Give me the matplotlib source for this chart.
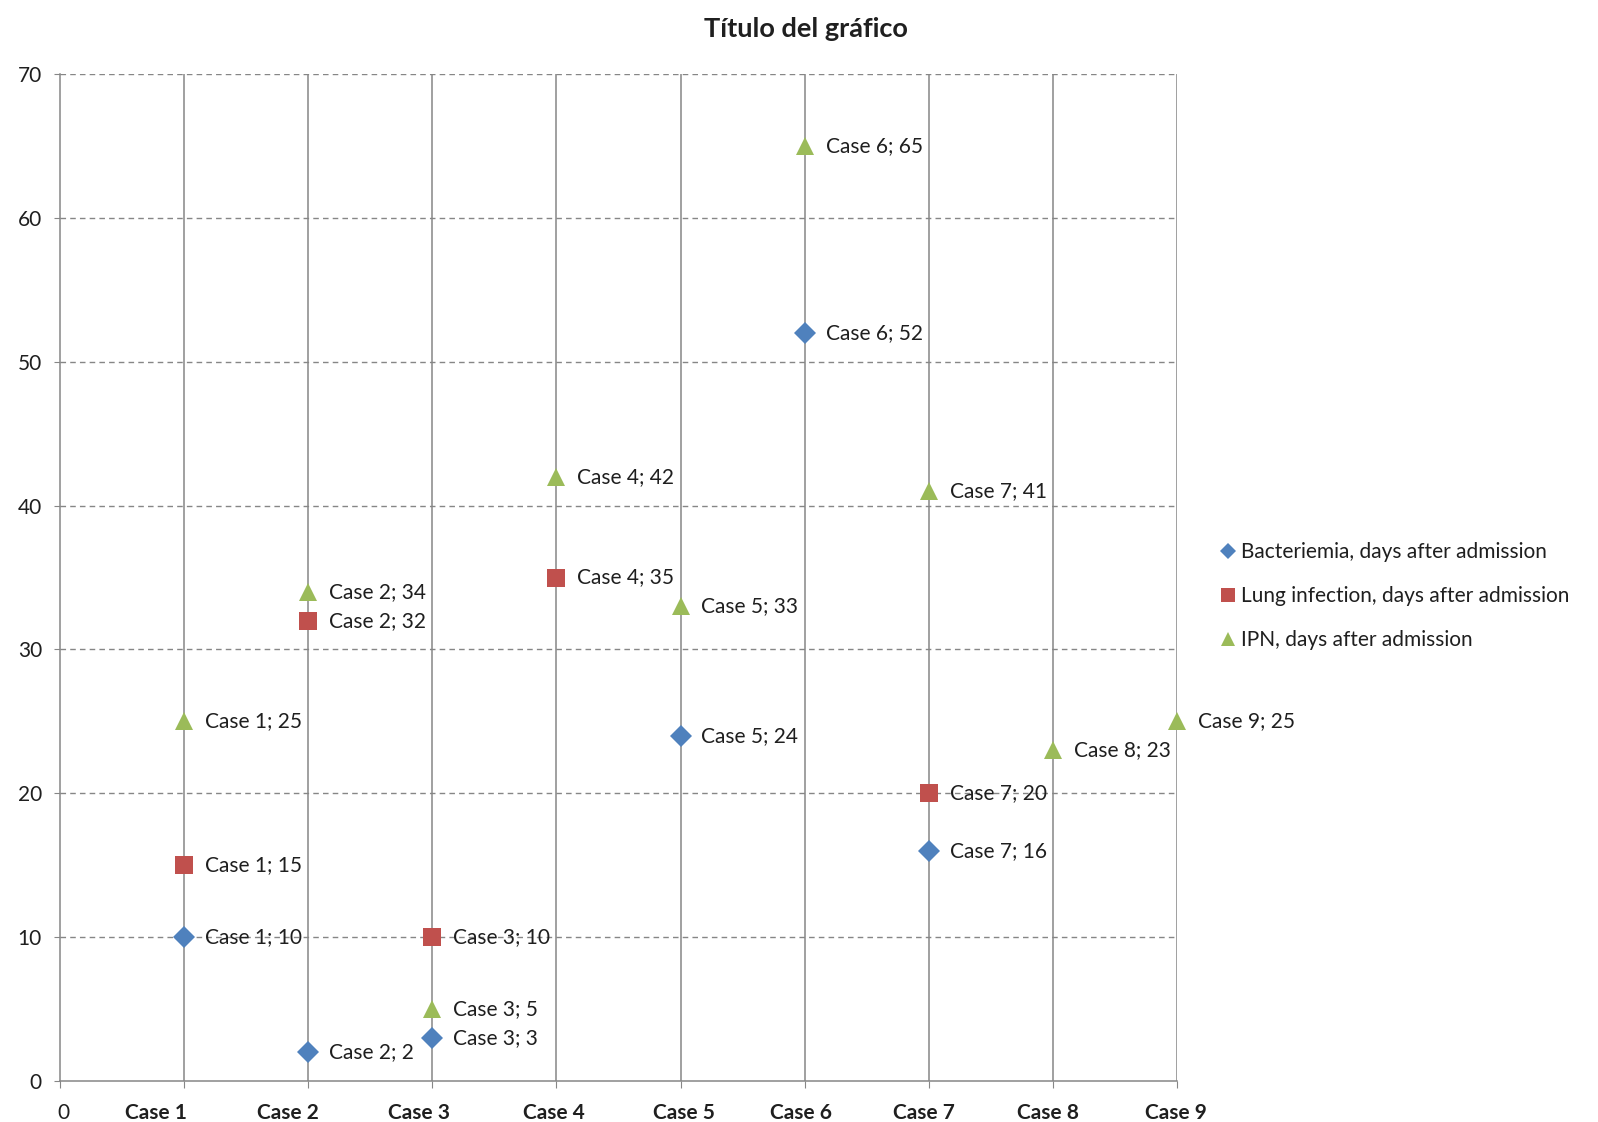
import matplotlib
matplotlib.use("Agg")
import matplotlib.pyplot as plt

plt.rcParams['font.family'] = ['Lato', 'DejaVu Sans']

# Days after admission for each complication, by case number
bact_cases = [1, 2, 3, 5, 6, 7]
bact_days = [10, 2, 3, 24, 52, 16]

lung_cases = [1, 2, 3, 4, 7]
lung_days = [15, 32, 10, 35, 20]

ipn_cases = [1, 2, 3, 4, 5, 6, 7, 8, 9]
ipn_days = [25, 34, 5, 42, 33, 65, 41, 23, 25]

tick_labels = ['0', 'Case 1', 'Case 2', 'Case 3', 'Case 4', 'Case 5',
               'Case 6', 'Case 7', 'Case 8', 'Case 9']
# the category labels sit slightly off the gridlines
label_pos = [0.03, 0.77, 1.84, 2.89, 3.98, 5.03, 5.97, 6.96, 7.96, 8.99]

series = [
    (bact_cases, bact_days, 'Bacteriemia, days after admission', '#4F81BD', 'D', 11),
    (lung_cases, lung_days, 'Lung infection, days after admission', '#C0504D', 's', 12.5),
    (ipn_cases, ipn_days, 'IPN, days after admission', '#9BBB59', '^', 13),
]

grid_col = '#868686'
txt_col = '#1f1f1f'
fs = 15

fig = plt.figure(figsize=(15.98, 11.22), dpi=100)
ax = fig.add_axes([60 / 1598, 1 - 1081 / 1122, (1177 - 60) / 1598, (1081 - 74) / 1122])

ax.set_xlim(0, 9)
ax.set_ylim(0, 70)

# grid: solid verticals, dashed horizontals
for xv in range(1, 10):
    ax.axvline(xv, color=grid_col, lw=1.1, zorder=1)
for yv in range(10, 71, 10):
    ax.axhline(yv, color=grid_col, lw=1.0, ls=(0, (4, 3)), zorder=1)

handles = []
for xs, ys, name, col, mk, ms in series:
    h, = ax.plot(xs, ys, ls='none', marker=mk, ms=ms, color=col,
                 markeredgewidth=0, label=name, zorder=3, clip_on=False)
    handles.append(h)
    for xv, yv in zip(xs, ys):
        ax.annotate(f'Case {xv}; {yv}', (xv, yv), xytext=(15, 0),
                    textcoords='offset points', va='center', ha='left',
                    fontsize=fs, color=txt_col, zorder=4)

for side in ['top', 'right']:
    ax.spines[side].set_visible(False)
for side in ['left', 'bottom']:
    ax.spines[side].set_color(grid_col)
    ax.spines[side].set_linewidth(1.1)

ax.set_yticks(range(0, 71, 10))
ax.tick_params(axis='y', length=4, color=grid_col, pad=9, labelsize=fs,
               labelcolor=txt_col)
ax.xaxis.remove_overlapping_locs = False
ax.set_xticks(range(0, 10))
ax.set_xticklabels([])
ax.tick_params(axis='x', which='major', length=5, color=grid_col)
ax.set_xticks(label_pos, tick_labels, minor=True)
ax.tick_params(axis='x', which='minor', length=0, pad=16, labelsize=fs,
               labelcolor=txt_col)
for lbl in ax.get_xticklabels(minor=True)[1:]:
    lbl.set_fontweight('bold')

fig.text(806 / 1598, 1 - 29 / 1122, 'Título del gráfico', ha='center', va='center',
         fontsize=19.5, fontweight='bold', color=txt_col)

fig.legend(handles=handles, loc='center left', bbox_to_anchor=(1220 / 1598, 1 - 596 / 1122),
           frameon=False, fontsize=fs, handlelength=0.8, handletextpad=0.2,
           labelspacing=1.15, borderpad=0, borderaxespad=0, markerscale=0.75,
           labelcolor=txt_col)

fig.savefig('out.png', dpi=100, facecolor='white')
